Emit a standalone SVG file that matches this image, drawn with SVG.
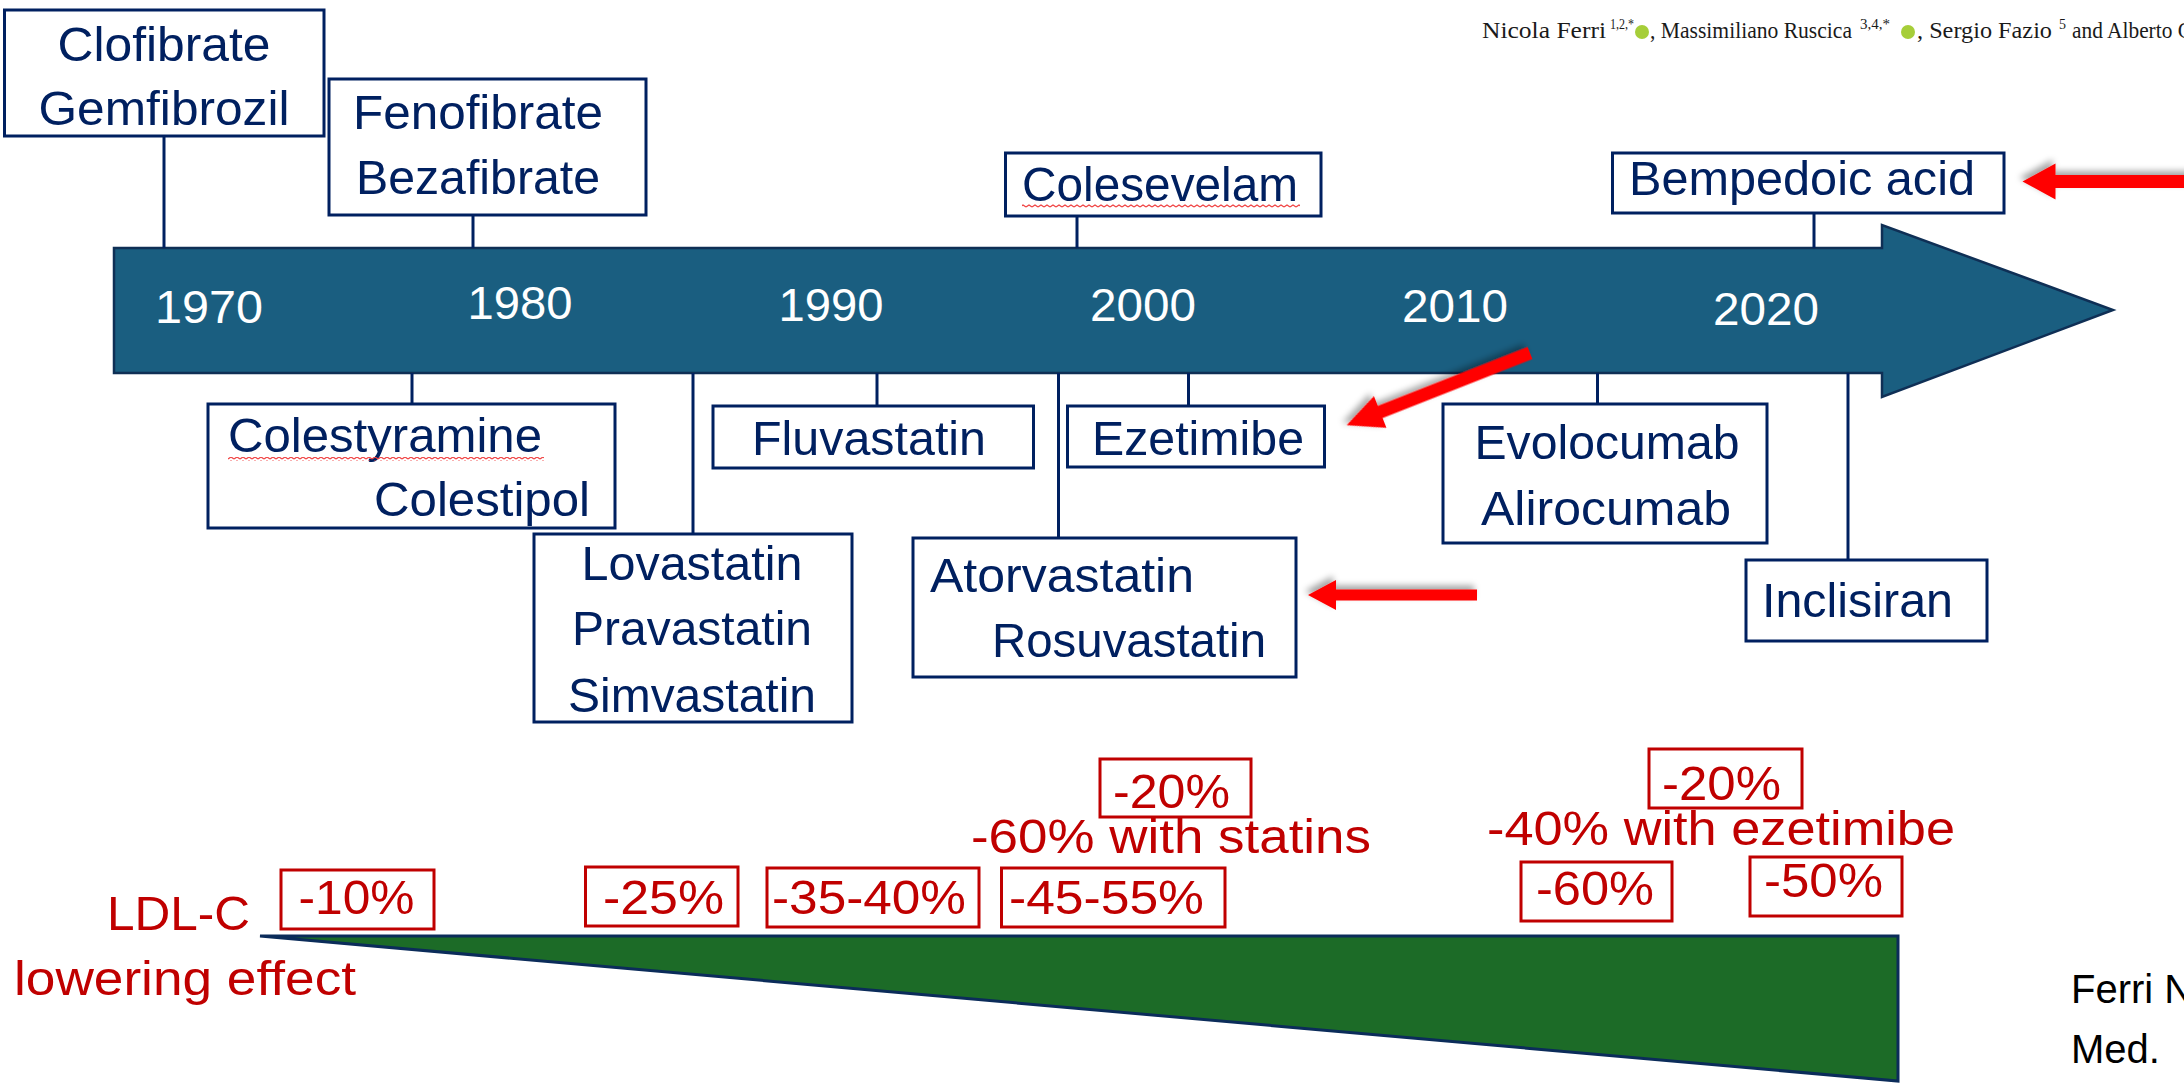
<svg xmlns="http://www.w3.org/2000/svg" width="2184" height="1083" viewBox="0 0 2184 1083">
<style>
.box{fill:#fff;stroke:#002060;stroke-width:3}
.nt{font-family:"Liberation Sans",Arial,sans-serif;font-size:49px;fill:#002060}
.c{text-anchor:middle}
.yr{font-family:"Liberation Sans",Arial,sans-serif;font-size:47px;fill:#fff;text-anchor:middle}
.pct{font-family:"Liberation Sans",Arial,sans-serif;font-size:48px;fill:#C00000}
.pbox{fill:#fff;stroke:#C00000;stroke-width:3}
.conn{stroke:#002060;stroke-width:3;fill:none}
.red{fill:#FF0000;filter:url(#sh)}
.hdr{font-family:"Liberation Serif","Times New Roman",serif;font-size:23px;fill:#1a1a1a}
.sup{font-family:"Liberation Serif","Times New Roman",serif;font-size:14px;fill:#1a1a1a}
.orc{fill:#A6CE39}
</style>
<defs>
<filter id="sh" x="-20%" y="-40%" width="140%" height="180%">
<feDropShadow dx="3" dy="4" stdDeviation="3" flood-color="#000" flood-opacity="0.35"/>
</filter>
<pattern id="wave" width="6" height="4" patternUnits="userSpaceOnUse">
<path d="M0,3 L3,1 L6,3" fill="none" stroke="#F04040" stroke-width="1.2"/>
</pattern>
</defs>

<!-- header citation -->
<g id="header">
<text class="hdr" x="1482" y="38" textLength="124" lengthAdjust="spacingAndGlyphs">Nicola Ferri</text>
<text class="sup" x="1610" y="29" textLength="24" lengthAdjust="spacingAndGlyphs">1,2,*</text>
<circle class="orc" cx="1642" cy="32" r="7"/>
<text class="hdr" x="1650" y="38" textLength="202" lengthAdjust="spacingAndGlyphs">, Massimiliano Ruscica</text>
<text class="sup" x="1860" y="29" textLength="30" lengthAdjust="spacingAndGlyphs">3,4,*</text>
<circle class="orc" cx="1908" cy="32" r="7"/>
<text class="hdr" x="1917" y="38" textLength="135" lengthAdjust="spacingAndGlyphs">, Sergio Fazio</text>
<text class="sup" x="2059" y="29">5</text>
<text class="hdr" x="2072" y="38" textLength="120" lengthAdjust="spacingAndGlyphs">and Alberto C</text>
</g>

<!-- timeline bar -->
<g id="timeline">
<polygon points="114,248 1882,248 1882,225 2113,310 1882,397 1882,373 114,373" fill="#1A5E80" stroke="#0F2F55" stroke-width="2.5"/>
<text class="yr" x="209" y="323" textLength="108" lengthAdjust="spacingAndGlyphs">1970</text>
<text class="yr" x="520" y="319" textLength="105" lengthAdjust="spacingAndGlyphs">1980</text>
<text class="yr" x="831" y="321" textLength="105" lengthAdjust="spacingAndGlyphs">1990</text>
<text class="yr" x="1143" y="321" textLength="106" lengthAdjust="spacingAndGlyphs">2000</text>
<text class="yr" x="1455" y="322" textLength="106" lengthAdjust="spacingAndGlyphs">2010</text>
<text class="yr" x="1766" y="325" textLength="106" lengthAdjust="spacingAndGlyphs">2020</text>
</g>

<!-- connectors -->
<g id="connectors">
<line class="conn" x1="164" y1="136" x2="164" y2="248"/>
<line class="conn" x1="473" y1="215" x2="473" y2="248"/>
<line class="conn" x1="1077" y1="216" x2="1077" y2="248"/>
<line class="conn" x1="1814" y1="213" x2="1814" y2="248"/>
<line class="conn" x1="412" y1="373" x2="412" y2="404"/>
<line class="conn" x1="693" y1="373" x2="693" y2="534"/>
<line class="conn" x1="877" y1="373" x2="877" y2="406"/>
<line class="conn" x1="1058.5" y1="373" x2="1058.5" y2="538"/>
<line class="conn" x1="1188.5" y1="373" x2="1188.5" y2="406"/>
<line class="conn" x1="1597.5" y1="373" x2="1597.5" y2="404"/>
<line class="conn" x1="1848" y1="373" x2="1848" y2="560"/>
</g>

<!-- drug nodes -->
<g id="clofibrate">
<rect class="box" x="4.5" y="10" width="319.5" height="126"/>
<text class="nt c" x="164" y="61" textLength="213" lengthAdjust="spacingAndGlyphs">Clofibrate</text>
<text class="nt c" x="164" y="125" textLength="251" lengthAdjust="spacingAndGlyphs">Gemfibrozil</text>
</g>
<g id="fenofibrate">
<rect class="box" x="329" y="79" width="317" height="136"/>
<text class="nt c" x="478" y="129" textLength="250" lengthAdjust="spacingAndGlyphs">Fenofibrate</text>
<text class="nt c" x="478" y="194" textLength="244" lengthAdjust="spacingAndGlyphs">Bezafibrate</text>
</g>
<g id="colesevelam">
<rect class="box" x="1005.5" y="153" width="315.5" height="63"/>
<text class="nt" x="1022" y="201" textLength="276" lengthAdjust="spacingAndGlyphs">Colesevelam</text>
<rect x="1022" y="204" width="278" height="4" fill="url(#wave)"/>
</g>
<g id="bempedoic">
<rect class="box" x="1612.5" y="153" width="391.5" height="60"/>
<text class="nt" x="1629" y="195" textLength="346" lengthAdjust="spacingAndGlyphs">Bempedoic acid</text>
</g>
<g id="colestyramine">
<rect class="box" x="208" y="404" width="407" height="124"/>
<text class="nt" x="228" y="452" textLength="314" lengthAdjust="spacingAndGlyphs">Colestyramine</text>
<rect x="228" y="457" width="316" height="4" fill="url(#wave)"/>
<text class="nt" x="374" y="516" textLength="216" lengthAdjust="spacingAndGlyphs">Colestipol</text>
</g>
<g id="lovastatin">
<rect class="box" x="534" y="534" width="318" height="188"/>
<text class="nt c" x="692" y="580" textLength="221" lengthAdjust="spacingAndGlyphs">Lovastatin</text>
<text class="nt c" x="692" y="645" textLength="240" lengthAdjust="spacingAndGlyphs">Pravastatin</text>
<text class="nt c" x="692" y="712" textLength="248" lengthAdjust="spacingAndGlyphs">Simvastatin</text>
</g>
<g id="fluvastatin">
<rect class="box" x="713" y="406" width="320.5" height="62"/>
<text class="nt" x="752" y="455" textLength="234" lengthAdjust="spacingAndGlyphs">Fluvastatin</text>
</g>
<g id="ezetimibe">
<rect class="box" x="1067.5" y="406" width="257" height="61"/>
<text class="nt" x="1092" y="455" textLength="212" lengthAdjust="spacingAndGlyphs">Ezetimibe</text>
</g>
<g id="atorvastatin">
<rect class="box" x="913" y="538" width="383" height="139"/>
<text class="nt" x="930" y="592" textLength="264" lengthAdjust="spacingAndGlyphs">Atorvastatin</text>
<text class="nt" x="992" y="657" textLength="274" lengthAdjust="spacingAndGlyphs">Rosuvastatin</text>
</g>
<g id="evolocumab">
<rect class="box" x="1443" y="404" width="324" height="139"/>
<text class="nt c" x="1607" y="459" textLength="265" lengthAdjust="spacingAndGlyphs">Evolocumab</text>
<text class="nt c" x="1606" y="525" textLength="250" lengthAdjust="spacingAndGlyphs">Alirocumab</text>
</g>
<g id="inclisiran">
<rect class="box" x="1746" y="560" width="241" height="81"/>
<text class="nt" x="1762" y="617" textLength="191" lengthAdjust="spacingAndGlyphs">Inclisiran</text>
</g>

<!-- red highlight arrows -->
<g id="highlights">
<polygon class="red" transform="translate(1530,353) rotate(158.5)" points="0,-6.5 161,-6.5 161,-17 197,0 161,17 161,6.5 0,6.5"/>
<polygon class="red" transform="translate(1477,595) rotate(180)" points="0,-5.5 141,-5.5 141,-15 169,0 141,15 141,5.5 0,5.5"/>
<polygon class="red" transform="translate(2200,181.5) rotate(180)" points="0,-6.5 144.5,-6.5 144.5,-18 177.5,0 144.5,18 144.5,6.5 0,6.5"/>
</g>

<!-- LDL-C lowering effect -->
<g id="ldl-wedge">
<polygon points="260,936 1898,936 1898,1081" fill="#1C6B27" stroke="#0B2C5A" stroke-width="3" stroke-linejoin="miter"/>
</g>
<g id="ldl-label">
<text class="pct" x="107" y="930" textLength="143" lengthAdjust="spacingAndGlyphs">LDL-C</text>
<text class="pct" x="14" y="995" textLength="342" lengthAdjust="spacingAndGlyphs">lowering effect</text>
</g>
<g id="p10">
<rect class="pbox" x="281" y="870" width="153" height="59"/>
<text class="pct c" x="356.5" y="914" textLength="116" lengthAdjust="spacingAndGlyphs">-10%</text>
</g>
<g id="p25">
<rect class="pbox" x="585.5" y="867" width="152.5" height="59"/>
<text class="pct c" x="663.5" y="914" textLength="121" lengthAdjust="spacingAndGlyphs">-25%</text>
</g>
<g id="p35">
<rect class="pbox" x="767" y="868" width="212" height="59"/>
<text class="pct c" x="869" y="914" textLength="194" lengthAdjust="spacingAndGlyphs">-35-40%</text>
</g>
<g id="p45">
<rect class="pbox" x="1001.5" y="868" width="223.5" height="59"/>
<text class="pct c" x="1106.5" y="914" textLength="195" lengthAdjust="spacingAndGlyphs">-45-55%</text>
</g>
<g id="p20a">
<rect class="pbox" x="1100" y="759" width="151" height="58"/>
<text class="pct c" x="1171.5" y="808" textLength="117" lengthAdjust="spacingAndGlyphs">-20%</text>
<text class="pct c" x="1171" y="853" textLength="400" lengthAdjust="spacingAndGlyphs">-60% with statins</text>
</g>
<g id="p20b">
<rect class="pbox" x="1649" y="749" width="153" height="59"/>
<text class="pct c" x="1721.5" y="800" textLength="119" lengthAdjust="spacingAndGlyphs">-20%</text>
<text class="pct c" x="1721" y="845" textLength="468" lengthAdjust="spacingAndGlyphs">-40% with ezetimibe</text>
</g>
<g id="p60">
<rect class="pbox" x="1521" y="862" width="151" height="59"/>
<text class="pct c" x="1595" y="905" textLength="118" lengthAdjust="spacingAndGlyphs">-60%</text>
</g>
<g id="p50">
<rect class="pbox" x="1750" y="857" width="152" height="59"/>
<text class="pct c" x="1823.5" y="897" textLength="119" lengthAdjust="spacingAndGlyphs">-50%</text>
</g>

<!-- source note -->
<g id="source">
<text font-family="'Liberation Sans',Arial,sans-serif" font-size="40" fill="#000" x="2071" y="1003">Ferri N</text>
<text font-family="'Liberation Sans',Arial,sans-serif" font-size="40" fill="#000" x="2071" y="1063">Med.</text>
</g>
</svg>
